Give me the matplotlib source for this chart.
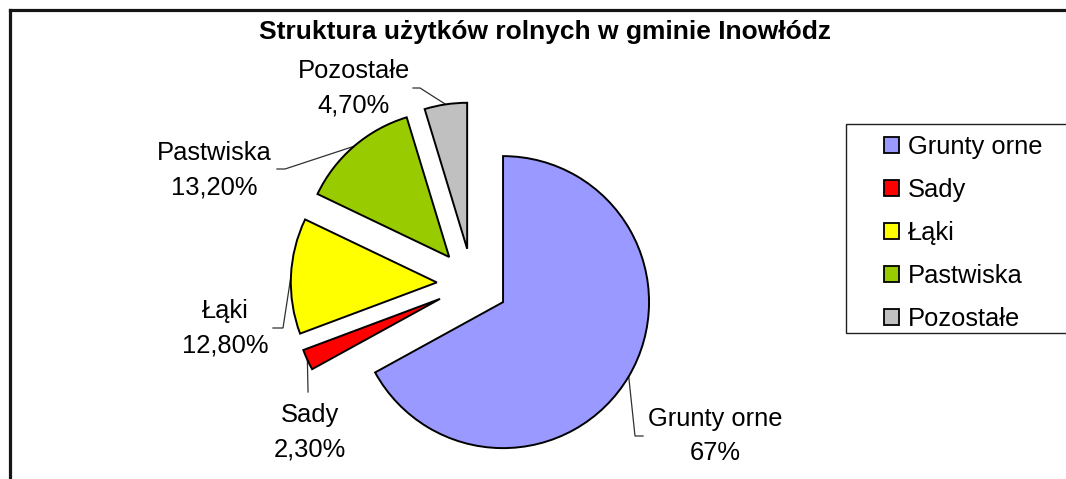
import numpy as np
import matplotlib
matplotlib.use("Agg")
import matplotlib.pyplot as plt
from matplotlib.patches import Patch, Rectangle

plt.rcParams['font.family'] = ['Liberation Sans', 'DejaVu Sans']

# ---- data ----
title = "Struktura użytków rolnych w gminie Inowłódz"
categories = ["Grunty orne", "Sady", "Łąki", "Pastwiska", "Pozostałe"]
values = [67.0, 2.3, 12.8, 13.2, 4.7]
value_labels = ["67%", "2,30%", "12,80%", "13,20%", "4,70%"]
colors = ["#9999FF", "#FF0000", "#FFFF00", "#99CC00", "#C0C0C0"]

# ---- layout (pixel space, y downward) ----
W, H = 1066, 479
center = (472.4, 284.0)
radius = 146.0
explode_px = 35.6
label_pos = [(715, 426), (310, 422), (225, 318), (214, 160), (354, 78)]
elbow = [((643, 436), (635, 436)),
         ((308, 392), (308, 390)),
         ((273, 328), (283, 328)),
         ((277, 169), (285, 169)),
         ((413, 88), (420, 88))]
line_gap = 34
fs = 18.4

fig = plt.figure(figsize=(W / 100, H / 100), dpi=100)
ax = fig.add_axes([0, 0, 1, 1])

wedges, _ = ax.pie(values, colors=colors, startangle=-90, counterclock=True,
                   explode=[explode_px] * len(values), radius=radius, center=center,
                   wedgeprops=dict(edgecolor="black", linewidth=1.4, zorder=3),
                   normalize=True)
ax.set_xlim(0, W)
ax.set_ylim(H, 0)
ax.set_aspect('equal')
ax.axis('off')

# labels and leader lines
for w, name, val, (lx, ly), (p0, p1) in zip(wedges, categories, value_labels, label_pos, elbow):
    th = np.deg2rad((w.theta1 + w.theta2) / 2)
    cx, cy = w.center
    ex, ey = cx + w.r * np.cos(th), cy + w.r * np.sin(th)
    ax.plot([p0[0], p1[0], ex], [p0[1], p1[1], ey], color="#303030", lw=0.9, zorder=1,
            solid_joinstyle='miter')
    ax.text(lx, ly, name, fontsize=fs, ha='center', va='baseline', color='black')
    ax.text(lx, ly + line_gap, val, fontsize=fs, ha='center', va='baseline', color='black')

# title
ax.text(545, 39, title, fontsize=19, fontweight='bold', ha='center', va='baseline')

# outer border (top and left visible)
ax.plot([9.5, W + 5], [10.3, 10.3], color='#151515', lw=2.3, clip_on=False, zorder=5)
ax.plot([9.5, 9.5], [10.3, H + 5], color='#151515', lw=2.3, clip_on=False, zorder=5)

# legend
ax.add_patch(Rectangle((846, 124), 240, 209, fill=False, edgecolor='#202020', lw=1.0,
                       clip_on=False, zorder=4))
handles = [Patch(facecolor=c, edgecolor='black', linewidth=1.3) for c in colors]
leg = ax.legend(handles, categories, loc='upper left',
                bbox_to_anchor=(884 / W, 1 - 135 / H), bbox_transform=fig.transFigure,
                frameon=False, fontsize=fs, borderpad=0, borderaxespad=0,
                handlelength=0.58, handleheight=0.58, handletextpad=0.35,
                labelspacing=0.74)

fig.savefig("out.png", dpi=100, facecolor='white')
